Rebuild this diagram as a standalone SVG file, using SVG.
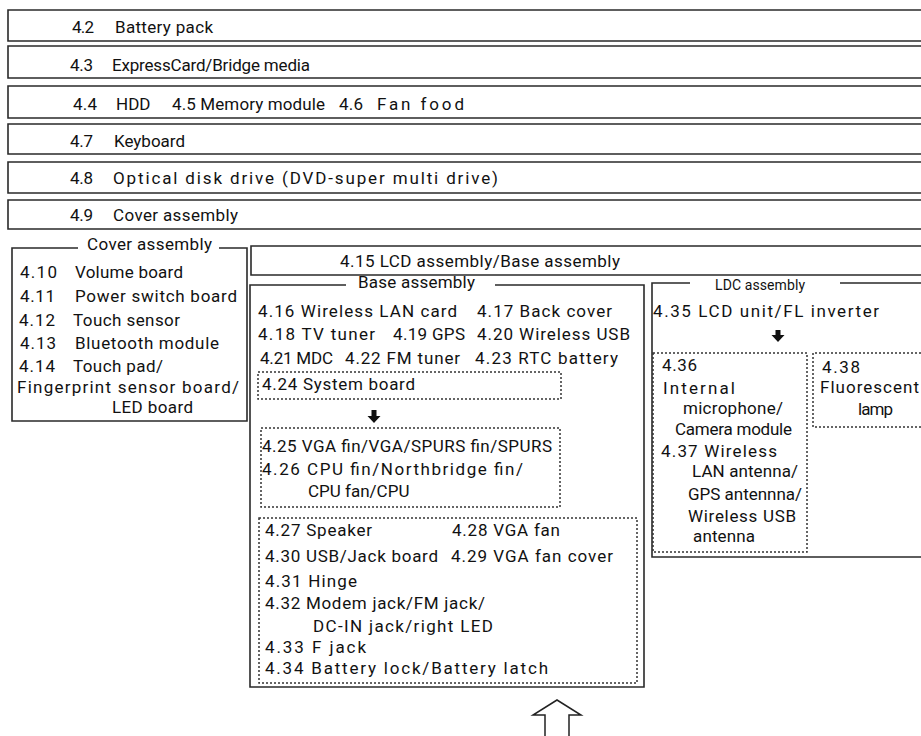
<svg xmlns="http://www.w3.org/2000/svg" width="921" height="736" viewBox="0 0 921 736">
<style>
.t{font-family:Roboto,"Liberation Sans",sans-serif;font-size:17px;fill:#111}
.s{font-family:Roboto,"Liberation Sans",sans-serif;font-size:14px;fill:#111}
.b{fill:none;stroke:#2a2a2a;stroke-width:1.6}
.d{fill:none;stroke:#333;stroke-width:1.5;stroke-dasharray:2 2}
.a{fill:#111;stroke:none}
.u{fill:#fff;stroke:#222;stroke-width:1.5}
</style>
<rect width="921" height="736" fill="#fff"/>

<g id="bar-4-2">
<path class="b" d="M925,10 H8 V41 H925"/>
<text class="t" x="72" y="33" textLength="22" lengthAdjust="spacing">4.2</text>
<text class="t" x="115" y="33" textLength="98" lengthAdjust="spacing">Battery pack</text>
</g>
<g id="bar-4-3">
<path class="b" d="M925,46 H8 V78 H925"/>
<text class="t" x="70" y="71" textLength="23" lengthAdjust="spacing">4.3</text>
<text class="t" x="112" y="71" textLength="198" lengthAdjust="spacing">ExpressCard/Bridge media</text>
</g>
<g id="bar-4-4">
<path class="b" d="M925,86 H8 V118 H925"/>
<text class="t" x="73" y="110" textLength="24" lengthAdjust="spacing">4.4</text>
<text class="t" x="116" y="110">HDD</text>
<text class="t" x="172" y="110" textLength="153" lengthAdjust="spacing">4.5 Memory module</text>
<text class="t" x="339" y="110" textLength="24" lengthAdjust="spacing">4.6</text>
<text class="t" x="377" y="110" textLength="87" lengthAdjust="spacing">Fan food</text>
</g>
<g id="bar-4-7">
<path class="b" d="M925,124 H8 V154 H925"/>
<text class="t" x="70" y="147" textLength="23" lengthAdjust="spacing">4.7</text>
<text class="t" x="114" y="147" textLength="71" lengthAdjust="spacing">Keyboard</text>
</g>
<g id="bar-4-8">
<path class="b" d="M925,162 H8 V193 H925"/>
<text class="t" x="70" y="184" textLength="23" lengthAdjust="spacing">4.8</text>
<text class="t" x="113" y="184" textLength="385" lengthAdjust="spacing">Optical disk drive (DVD-super multi drive)</text>
</g>
<g id="bar-4-9">
<path class="b" d="M925,200 H8 V229 H925"/>
<text class="t" x="70" y="221" textLength="23" lengthAdjust="spacing">4.9</text>
<text class="t" x="113" y="221" textLength="125" lengthAdjust="spacing">Cover assembly</text>
</g>

<g id="cover-assembly">
<path class="b" d="M78,248 H12 V421 H247 V248 H219"/>
<text class="t" x="87" y="250" textLength="125" lengthAdjust="spacing">Cover assembly</text>
<text class="t" x="20" y="278" textLength="37" lengthAdjust="spacing">4.10</text>
<text class="t" x="75" y="278" textLength="108" lengthAdjust="spacing">Volume board</text>
<text class="t" x="20" y="302" textLength="35" lengthAdjust="spacing">4.11</text>
<text class="t" x="75" y="302" textLength="162" lengthAdjust="spacing">Power switch board</text>
<text class="t" x="19" y="326" textLength="36" lengthAdjust="spacing">4.12</text>
<text class="t" x="73" y="326" textLength="107" lengthAdjust="spacing">Touch sensor</text>
<text class="t" x="20" y="349" textLength="36" lengthAdjust="spacing">4.13</text>
<text class="t" x="75" y="349" textLength="144" lengthAdjust="spacing">Bluetooth module</text>
<text class="t" x="19" y="372" textLength="36" lengthAdjust="spacing">4.14</text>
<text class="t" x="73" y="372" textLength="90" lengthAdjust="spacing">Touch pad/</text>
<text class="t" x="17" y="393" textLength="222" lengthAdjust="spacing">Fingerprint sensor board/</text>
<text class="t" x="112" y="413" textLength="81" lengthAdjust="spacing">LED board</text>
</g>

<g id="lcd-base-assembly">
<path class="b" d="M925,246 H251 V275 H925"/>
<text class="t" x="340" y="267" textLength="280" lengthAdjust="spacing">4.15 LCD assembly/Base assembly</text>
</g>

<g id="base-assembly">
<path class="b" d="M346,285 H250 V687 H644 V285 H495"/>
<text class="t" x="358" y="288" textLength="117" lengthAdjust="spacing">Base assembly</text>
<text class="t" x="258" y="317" textLength="199" lengthAdjust="spacing">4.16 Wireless LAN card</text>
<text class="t" x="477" y="317" textLength="135" lengthAdjust="spacing">4.17 Back cover</text>
<text class="t" x="258" y="340" textLength="117" lengthAdjust="spacing">4.18 TV tuner</text>
<text class="t" x="393" y="340" textLength="72" lengthAdjust="spacing">4.19 GPS</text>
<text class="t" x="477" y="340" textLength="153" lengthAdjust="spacing">4.20 Wireless USB</text>
<text class="t" x="260" y="364" textLength="73" lengthAdjust="spacing">4.21 MDC</text>
<text class="t" x="345" y="364" textLength="115" lengthAdjust="spacing">4.22 FM tuner</text>
<text class="t" x="475" y="364" textLength="143" lengthAdjust="spacing">4.23 RTC battery</text>
</g>
<g id="system-board">
<rect class="d" x="258" y="372" width="303" height="27"/>
<text class="t" x="262" y="390" textLength="153" lengthAdjust="spacing">4.24 System board</text>
</g>
<g id="fins-cpu">
<rect class="d" x="261" y="428" width="299" height="79"/>
<text class="t" x="262" y="452" textLength="290" lengthAdjust="spacing">4.25 VGA fin/VGA/SPURS fin/SPURS</text>
<text class="t" x="262" y="475" textLength="261" lengthAdjust="spacing">4.26 CPU fin/Northbridge fin/</text>
<text class="t" x="308" y="497">CPU fan/CPU</text>
</g>
<g id="base-parts">
<rect class="d" x="259" y="518" width="378" height="165"/>
<text class="t" x="265" y="536" textLength="107" lengthAdjust="spacing">4.27 Speaker</text>
<text class="t" x="452" y="536" textLength="108" lengthAdjust="spacing">4.28 VGA fan</text>
<text class="t" x="265" y="562" textLength="173" lengthAdjust="spacing">4.30 USB/Jack board</text>
<text class="t" x="451" y="562" textLength="162" lengthAdjust="spacing">4.29 VGA fan cover</text>
<text class="t" x="265" y="587" textLength="92" lengthAdjust="spacing">4.31 Hinge</text>
<text class="t" x="265" y="609" textLength="220" lengthAdjust="spacing">4.32 Modem jack/FM jack/</text>
<text class="t" x="313" y="632" textLength="180" lengthAdjust="spacing">DC-IN jack/right LED</text>
<text class="t" x="265" y="653" textLength="101" lengthAdjust="spacing">4.33 F jack</text>
<text class="t" x="265" y="674" textLength="283" lengthAdjust="spacing">4.34 Battery lock/Battery latch</text>
</g>

<g id="ldc-assembly">
<path class="b" d="M690,283 H652 V557 H925 M840,283 H925"/>
<text class="s" x="715" y="290" textLength="90" lengthAdjust="spacing">LDC assembly</text>
<text class="t" x="653" y="317" textLength="226" lengthAdjust="spacing">4.35 LCD unit/FL inverter</text>
</g>
<g id="mic-camera-antenna">
<rect class="d" x="653" y="353" width="154" height="199"/>
<text class="t" x="662" y="371" textLength="35" lengthAdjust="spacing">4.36</text>
<text class="t" x="663" y="394" textLength="72" lengthAdjust="spacing">Internal</text>
<text class="t" x="683" y="414" textLength="100" lengthAdjust="spacing">microphone/</text>
<text class="t" x="675" y="435" textLength="117" lengthAdjust="spacing">Camera module</text>
<text class="t" x="661" y="457" textLength="116" lengthAdjust="spacing">4.37 Wireless</text>
<text class="t" x="692" y="477" textLength="106" lengthAdjust="spacing">LAN antenna/</text>
<text class="t" x="688" y="500" textLength="114" lengthAdjust="spacing">GPS antennna/</text>
<text class="t" x="688" y="522" textLength="108" lengthAdjust="spacing">Wireless USB</text>
<text class="t" x="693" y="542" textLength="62" lengthAdjust="spacing">antenna</text>
</g>
<g id="fluorescent-lamp">
<path class="d" d="M925,353 H813 V427 H925"/>
<text class="t" x="822" y="373" textLength="38" lengthAdjust="spacing">4.38</text>
<text class="t" x="820" y="393" textLength="99" lengthAdjust="spacing">Fluorescent</text>
<text class="t" x="858" y="415" textLength="35" lengthAdjust="spacing">lamp</text>
</g>

<g id="connectors">
<path class="a" d="M371.5,410 H376.5 V416 H380.5 L374,423 L367.5,416 H371.5 Z"/>
<path class="a" d="M775.5,330 H780.5 V335 H784.5 L778,342 L771.5,335 H775.5 Z"/>
<path class="u" d="M557,700 L581,715 H569 V740 H545 V715 H533 Z"/>
</g>
</svg>
